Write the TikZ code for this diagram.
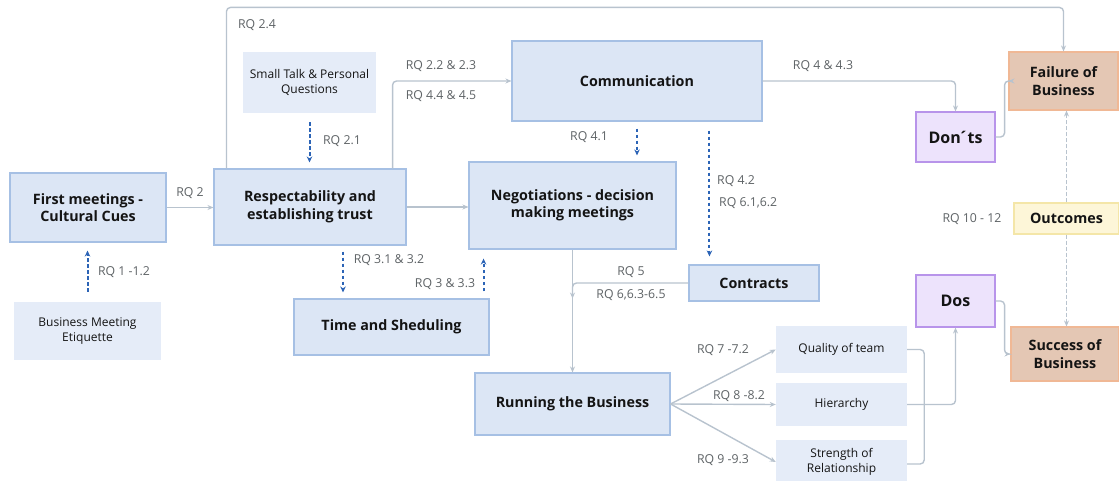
\documentclass[tikz,border=0pt]{standalone}
\usepackage{fontspec}
\setmainfont{Open Sans}
\usetikzlibrary{arrows.meta}

\definecolor{boxfill}{HTML}{DCE6F5}
\definecolor{boxline}{HTML}{A6C0E4}
\definecolor{lightfill}{HTML}{E5ECF8}
\definecolor{purplefill}{HTML}{EDE3FC}
\definecolor{purpleline}{HTML}{B894EA}
\definecolor{brownfill}{HTML}{E4C7B4}
\definecolor{brownline}{HTML}{F0B895}
\definecolor{yellowfill}{HTML}{FDF6D8}
\definecolor{yellowline}{HTML}{F4E6A8}
\definecolor{conncol}{HTML}{B8C3CE}
\definecolor{dashblue}{HTML}{2C64B6}
\definecolor{labelgray}{HTML}{5E6366}
\definecolor{textdark}{HTML}{141414}

\tikzset{
  mainbox/.style={draw=boxline, fill=boxfill, line width=1.1pt, align=center,
    text=textdark, font=\fontsize{14.3}{17.5}\selectfont\bfseries, inner sep=0pt},
  subbox/.style={fill=lightfill, align=center, text=textdark,
    font=\fontsize{12}{15}\selectfont, inner sep=0pt},
  purplebox/.style={mainbox, draw=purpleline, fill=purplefill, font=\fontsize{16}{19}\selectfont\bfseries},
  brownbox/.style={mainbox, draw=brownline, fill=brownfill},
  yellowbox/.style={mainbox, draw=yellowline, fill=yellowfill},
  conn/.style={draw=conncol, line width=1.4pt, rounded corners=4pt,
    -{Stealth[length=6pt,width=5pt]}},
  plainconn/.style={draw=conncol, line width=1.4pt, rounded corners=4pt},
  blueflow/.style={draw=dashblue, line width=2pt, dash pattern=on 3.5pt off 2.5pt,
    -{Stealth[length=6pt,width=5.5pt]}},
  grayflow/.style={draw=conncol, line width=1.4pt, dash pattern=on 4pt off 2pt,
    -{Stealth[length=6pt,width=5pt]}},
  rq/.style={text=labelgray, font=\fontsize{12.3}{14}\selectfont, inner sep=0pt},
}

\begin{document}
\begin{tikzpicture}[x=1pt, y=-1pt]
\useasboundingbox (0,0) rectangle (1119,481);

% main stages
\node[mainbox, minimum width=156pt, minimum height=69pt] (first) at (88,207.5) {First meetings -\\Cultural Cues};
\node[mainbox, minimum width=192pt, minimum height=76pt] (resp) at (310,207) {Respectability and\\establishing trust};
\node[mainbox, minimum width=250pt, minimum height=80pt] (comm) at (637,81) {Communication};
\node[mainbox, minimum width=207pt, minimum height=87pt] (nego) at (572.5,205.5) {Negotiations - decision\\making meetings};
\node[mainbox, minimum width=130pt, minimum height=36pt] (contracts) at (754,283) {Contracts};
\node[mainbox, minimum width=195pt, minimum height=56pt] (time) at (391.5,327) {Time and Sheduling};
\node[mainbox, minimum width=195pt, minimum height=62pt] (run) at (572.5,404) {Running the Business};

% supporting topics
\node[subbox, minimum width=133pt, minimum height=61pt] (small) at (309.5,82.5) {Small Talk \& Personal\\Questions};
\node[subbox, minimum width=147pt, minimum height=58pt] (etiq) at (87.5,331) {Business Meeting\\Etiquette};
\node[subbox, minimum width=131pt, minimum height=47pt] (quality) at (841.5,349.5) {Quality of team};
\node[subbox, minimum width=131pt, minimum height=43pt] (hier) at (841.5,404.5) {Hierarchy};
\node[subbox, minimum width=131pt, minimum height=44pt] (strength) at (841.5,462) {Strength of\\Relationship};

% outcomes
\node[purplebox, minimum width=79pt, minimum height=50pt] (donts) at (955.5,137) {Don\,\'{}ts};
\node[purplebox, minimum width=79pt, minimum height=52pt] (dos) at (955.5,301) {Dos};
\node[brownbox, minimum width=109pt, minimum height=58pt] (failure) at (1063.5,81) {Failure of\\Business};
\node[yellowbox, minimum width=105pt, minimum height=31pt] (outcomes) at (1066.5,218.5) {Outcomes};
\node[brownbox, minimum width=108pt, minimum height=54pt] (success) at (1065,354) {Success of\\Business};

% solid flows
\draw[conn] (first.east) -- (resp.west |- first.east);
\draw[conn] ([xshift=13pt]resp.north west) -- ++(0,-161) -| (failure.north);
\draw[conn] ([xshift=-14pt]resp.north east) |- (comm.west);
\draw[conn] (resp.east) -- (resp.east -| nego.west);
\draw[conn] (comm.east) -| (donts.north);
\draw[conn] (nego.south) -- (run.north);
\draw[conn] (contracts.west) -| ([yshift=-49pt]nego.south);
\draw[conn] (run.east) -- (quality.west);
\draw[conn] (run.east) -- (hier.west);
\draw[conn] (run.east) -- (strength.west);
\draw[plainconn] (quality.east) -- ++(17,0) |- ([yshift=-2pt]strength.east);
\draw[conn] (hier.east) -| (dos.south);
\draw[conn] (donts.east) -- ++(9,0) |- (failure.west);
\draw[conn] (dos.east) -- ++(9,0) |- (success.west);

% dashed research links
\coordinate (c42) at ([xshift=21pt]contracts.north west);
\draw[blueflow, shorten <=9pt, shorten >=6pt] (small.south) -- (small.south |- resp.north);
\draw[blueflow, shorten <=7pt, shorten >=6pt] (comm.south) -- (comm.south |- nego.north);
\draw[blueflow, shorten <=9pt, shorten >=8pt] (comm.south -| c42) -- (c42);
\draw[blueflow, shorten <=6pt, shorten >=6pt] ([xshift=33pt]resp.south) -- ([xshift=-48.5pt]time.north);
\draw[blueflow, shorten <=7pt, shorten >=9pt] ([xshift=-6pt]time.north east) -- ([xshift=-6pt]time.north east |- nego.south);
\draw[blueflow, shorten <=10pt, shorten >=8pt] (etiq.north) -- (etiq.north |- first.south);
\draw[grayflow] (outcomes.north) -- (outcomes.north |- failure.south);
\draw[grayflow] (outcomes.south) -- (outcomes.south |- success.north);

% research question labels
\node[rq] at (190,193) {RQ 2};
\node[rq] at (257,25) {RQ 2.4};
\node[rq] at (441,66) {RQ 2.2 \& 2.3};
\node[rq] at (441,96) {RQ 4.4 \& 4.5};
\node[rq] at (342,141) {RQ 2.1};
\node[rq] at (823,66) {RQ 4 \& 4.3};
\node[rq] at (589,137) {RQ 4.1};
\node[rq, anchor=west] at (717,181) {RQ 4.2};
\node[rq, anchor=west] at (719,203) {RQ 6.1,6.2};
\node[rq] at (389,260) {RQ 3.1 \& 3.2};
\node[rq] at (445,284) {RQ 3 \& 3.3};
\node[rq] at (124,272) {RQ 1 -1.2};
\node[rq] at (631,272) {RQ 5};
\node[rq] at (631,295) {RQ 6,6.3-6.5};
\node[rq] at (723,350) {RQ 7 -7.2};
\node[rq] at (739,396) {RQ 8 -8.2};
\node[rq] at (723,460) {RQ 9 -9.3};
\node[rq] at (972,219) {RQ 10 - 12};
\end{tikzpicture}
\end{document}
